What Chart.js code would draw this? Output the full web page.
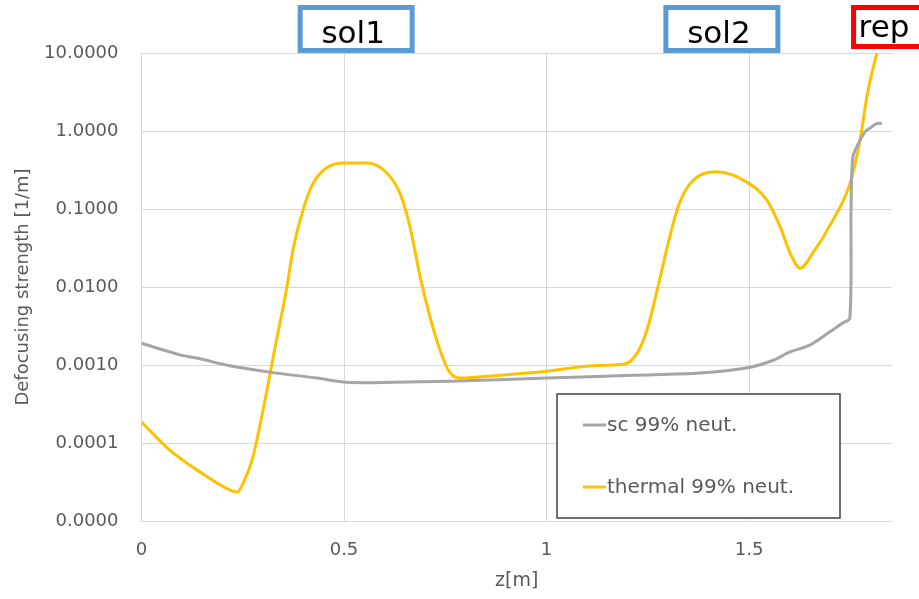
<!DOCTYPE html>
<html>
<head>
<meta charset="utf-8">
<script src="https://cdn.jsdelivr.net/npm/chart.js@4.4.0/dist/chart.umd.min.js"></script>
<style>
  html, body { margin: 0; padding: 0; background: #fff; }
  canvas { display: block; }
</style>
</head>
<body>
<canvas id="defocusChart" width="919" height="599"></canvas>
<script>
// z position [m] and defocusing strength [1/m], space charge beam
const scZ = [0, 0.095, 0.144, 0.218, 0.317, 0.433, 0.507, 0.62, 0.762, 1.001, 1.214, 1.379, 1.5, 1.56, 1.601, 1.65, 1.699, 1.732, 1.749, 1.752, 1.756, 1.768, 1.786, 1.8, 1.815, 1.828];
const scStrength = [0.0019, 0.00135, 0.0012, 0.00098, 0.00081, 0.00068, 0.0006, 0.0006, 0.00062, 0.00068, 0.00074, 0.00079, 0.00093, 0.00115, 0.00147, 0.0018, 0.00265, 0.00347, 0.004, 0.107, 0.45, 0.66, 0.97, 1.1, 1.24, 1.26];

// thermal beam
const thermalZ = [0, 0.07, 0.137, 0.218, 0.236, 0.251, 0.273, 0.305, 0.33, 0.359, 0.374, 0.399, 0.423, 0.458, 0.502, 0.557, 0.606, 0.638, 0.663, 0.688, 0.712, 0.737, 0.762, 0.786, 0.885, 1.001, 1.115, 1.189, 1.223, 1.248, 1.275, 1.3, 1.325, 1.354, 1.421, 1.495, 1.544, 1.577, 1.601, 1.626, 1.658, 1.707, 1.749, 1.774, 1.791, 1.816, 1.83];
const thermalStrength = [1.86e-4, 8.1e-5, 4.5e-5, 2.5e-5, 2.35e-5, 3.07e-5, 6.05e-5, 3.56e-4, 1.7e-3, 1.0e-2, 0.030, 0.098, 0.21, 0.34, 0.39, 0.39, 0.29, 0.16, 0.059, 0.0135, 0.0042, 0.00155, 0.00079, 0.00068, 0.00074, 0.00083, 0.00098, 0.00102, 0.0014, 0.0028, 0.010, 0.036, 0.107, 0.21, 0.30, 0.22, 0.13, 0.059, 0.0275, 0.0174, 0.0275, 0.072, 0.21, 0.76, 2.75, 10.0, 15];

const seriesNames = ['sc 99% neut.', 'thermal 99% neut.'];
const xTicks = [0, 0.5, 1, 1.5];
const yTicks = [0.00001, 0.0001, 0.001, 0.01, 0.1, 1, 10];

// element names written above the plot and their z
const zoneNames = ['sol1', 'sol2', 'rep'];
const zoneCenters = [0.53, 1.433, 1.847];

const toPoints = (zs, vals) => zs.map((z, i) => ({ x: z, y: vals[i] }));

const textGray = '#595959';
const gridGray = '#D9D9D9';

// boxed element names + legend panel inside the plot
const overlayPlugin = {
  id: 'overlay',
  afterDraw(chart) {
    const ctx = chart.ctx;
    const area = chart.chartArea;
    const xScale = chart.scales.x;
    ctx.save();

    zoneNames.forEach((name, i) => {
      const cx = xScale.getPixelForValue(zoneCenters[i]);
      const isRep = name === 'rep';
      const w = isRep ? 72 : 112;
      const h = isRep ? 39 : 43;
      ctx.fillStyle = '#fff';
      ctx.fillRect(cx - w / 2, 7.5, w, h);
      ctx.lineWidth = 5;
      ctx.strokeStyle = isRep ? '#FF0000' : '#5B9BD5';
      ctx.strokeRect(cx - w / 2, 7.5, w, h);
      ctx.fillStyle = '#000';
      ctx.font = '31px "DejaVu Sans"';
      ctx.textBaseline = 'alphabetic';
      if (isRep) {
        ctx.textAlign = 'left';
        ctx.fillText(name, cx - w / 2 + 5, 37);
      } else {
        ctx.textAlign = 'center';
        ctx.fillText(name, cx - 3, 43);
      }
    });

    // legend
    const lx = area.right - 335;
    const ly = area.bottom - 127;
    ctx.fillStyle = '#fff';
    ctx.fillRect(lx, ly, 283, 124);
    ctx.lineWidth = 1.5;
    ctx.strokeStyle = '#404040';
    ctx.strokeRect(lx, ly, 283, 124);
    ctx.font = '20px "DejaVu Sans"';
    ctx.textAlign = 'left';
    ctx.textBaseline = 'middle';
    chart.data.datasets.forEach((ds, i) => {
      const y = ly + 31 + i * 62;
      ctx.strokeStyle = ds.borderColor;
      ctx.lineWidth = 3;
      ctx.beginPath();
      ctx.moveTo(lx + 26, y);
      ctx.lineTo(lx + 49, y);
      ctx.stroke();
      ctx.fillStyle = textGray;
      ctx.fillText(ds.label, lx + 50, y + 1);
    });
    ctx.restore();
  }
};

const ctx = document.getElementById('defocusChart').getContext('2d');
const defocusChart = new Chart(ctx, {
  type: 'line',
  data: {
    datasets: [
      {
        label: seriesNames[0],
        data: toPoints(scZ, scStrength),
        borderColor: '#A5A5A5',
        borderWidth: 3,
        pointRadius: 0,
        tension: 0.3
      },
      {
        label: seriesNames[1],
        data: toPoints(thermalZ, thermalStrength),
        borderColor: '#FFC000',
        borderWidth: 3,
        pointRadius: 0,
        cubicInterpolationMode: 'monotone'
      }
    ]
  },
  options: {
    responsive: false,
    animation: false,
    layout: { padding: { left: 0, right: 27, top: 53, bottom: 0 } },
    plugins: {
      legend: { display: false },
      tooltip: { enabled: false }
    },
    scales: {
      x: {
        type: 'linear',
        min: 0,
        max: 1.853,
        afterBuildTicks: scale => { scale.ticks = xTicks.map(v => ({ value: v })); },
        afterFit: scale => { scale.height = 78; },
        ticks: {
          padding: 19,
          color: textGray,
          font: { family: 'DejaVu Sans', size: 18 },
          maxRotation: 0,
          callback: v => String(v)
        },
        grid: { color: gridGray, lineWidth: 1, drawTicks: false },
        border: { color: gridGray, width: 1 },
        title: {
          display: true,
          text: 'z[m]',
          color: textGray,
          font: { family: 'DejaVu Sans', size: 19 },
          padding: { top: 9, bottom: 7 }
        }
      },
      y: {
        type: 'logarithmic',
        min: 0.00001,
        max: 10,
        afterBuildTicks: scale => { scale.ticks = yTicks.map(v => ({ value: v })); },
        afterFit: scale => { scale.width = 141.5; },
        ticks: {
          padding: 23,
          color: textGray,
          font: { family: 'DejaVu Sans', size: 18 },
          callback: v => Number(v).toFixed(4)
        },
        grid: { color: gridGray, lineWidth: 1, drawTicks: false },
        border: { color: gridGray, width: 1 },
        title: {
          display: true,
          text: 'Defocusing strength [1/m]',
          color: textGray,
          font: { family: 'DejaVu Sans', size: 18 },
          padding: { top: 13, bottom: 0 }
        }
      }
    }
  },
  plugins: [overlayPlugin]
});
</script>
</body>
</html>
